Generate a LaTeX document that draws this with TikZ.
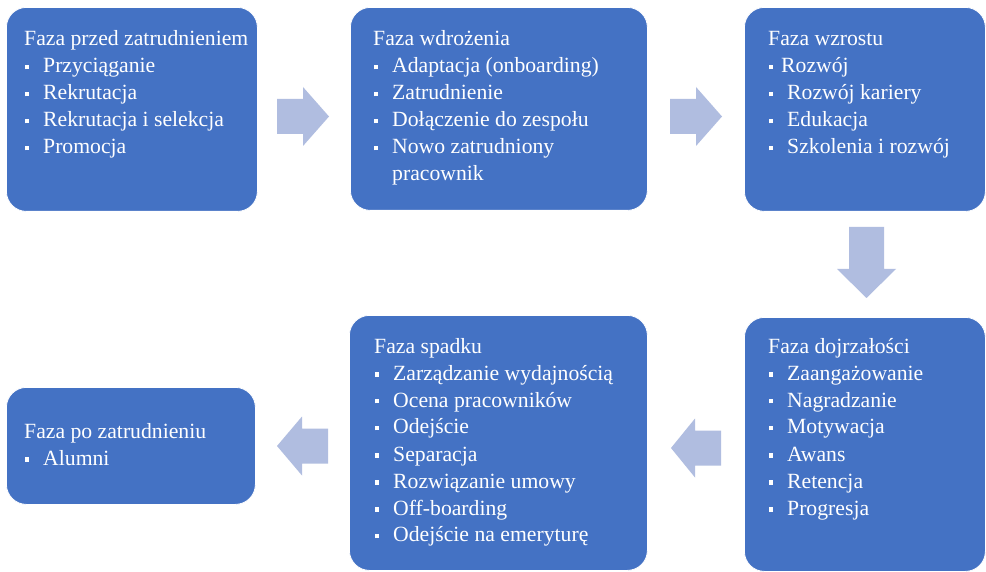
\documentclass[tikz,border=0pt]{standalone}
\usepackage{fontspec}
\setmainfont{Liberation Serif}
\definecolor{boxblue}{RGB}{68,114,196}
\definecolor{arrowblue}{RGB}{176,189,224}
\newcommand\sqbul{\rule[3.5pt]{4.2pt}{4.2pt}}
\newcommand\itm[2][18pt]{\hbox{\hspace*{1pt}\makebox[#1][l]{\sqbul}#2}}
\newcommand\cont[1]{\hbox{\hspace*{19pt}#1}}
\newcommand\ttl[1]{\hbox{#1}}
\newcommand\blk[1]{\vtop{\baselineskip=27pt\lineskiplimit=-20pt\lineskip=0pt #1}}
\newcommand\barrow[5]{% x, y, rotation, shaft length, head length
  \begin{scope}[shift={(#1,#2)},rotate=#3]
    \fill[arrowblue] (-#4,-17.5) -- (0,-17.5) -- (0,-29.5) -- (#5,0) -- (0,29.5) -- (0,17.5) -- (-#4,17.5) -- cycle;
  \end{scope}}
\begin{document}
\begin{tikzpicture}[x=1pt,y=-1pt,
  box/.style={draw=white,line width=0.8pt,fill=boxblue,rounded corners=20pt,inner sep=0pt,anchor=north west},
  txt/.style={text=white,inner sep=0pt,anchor=base west,font=\fontsize{21.7}{27}\selectfont}]
\useasboundingbox[fill=white] (0,0) rectangle (986,572);
% boxes
\node[box,minimum width=251pt,minimum height=204pt] (b1) at (6,7) {};
\node[box,minimum width=297pt,minimum height=203pt] (b2) at (350,7) {};
\node[box,minimum width=241pt,minimum height=204pt] (b3) at (744,7) {};
\node[box,minimum width=241pt,minimum height=254pt] (b5) at (744,317) {};
\node[box,minimum width=298pt,minimum height=255pt] (b4) at (349,315) {};
\node[box,minimum width=249pt,minimum height=117pt] (b6) at (6,387) {};
% texts
\node[txt] (t1) at (24,46) {\blk{\ttl{Faza przed zatrudnieniem}
  \itm{Przyciąganie}\itm{Rekrutacja}\itm{Rekrutacja i selekcja}\itm{Promocja}}};
\node[txt] (t2) at (373,46) {\blk{\ttl{Faza wdrożenia}
  \itm{Adaptacja (onboarding)}\itm{Zatrudnienie}\itm{Dołączenie do zespołu}\itm{Nowo zatrudniony}\cont{pracownik}}};
\node[txt] (t3) at (768,46) {\blk{\ttl{Faza wzrostu}
  \itm[12pt]{Rozwój}\itm{Rozwój kariery}\itm{Edukacja}\itm{Szkolenia i rozwój}}};
\node[txt] (t5) at (768,353) {\blk{\ttl{Faza dojrzałości}
  \itm{Zaangażowanie}\itm{Nagradzanie}\itm{Motywacja}\itm{Awans}\itm{Retencja}\itm{Progresja}}};
\node[txt] (t4) at (374,353) {\blk{\ttl{Faza spadku}
  \itm{Zarządzanie wydajnością}\itm{Ocena pracowników}\itm{Odejście}\itm{Separacja}\itm{Rozwiązanie umowy}\itm{Off-boarding}\itm{Odejście na emeryturę}}};
\node[txt] (t6) at (24,438) {\blk{\ttl{Faza po zatrudnieniu}\itm{Alumni}}};
% arrows
\barrow{303}{116.5}{0}{26}{26}
\barrow{696}{116.5}{0}{26}{26}
\barrow{866.5}{269}{-90}{42}{29}
\barrow{695}{448}{180}{26}{24}
\barrow{302}{446}{180}{26}{25}
\end{tikzpicture}
\end{document}
